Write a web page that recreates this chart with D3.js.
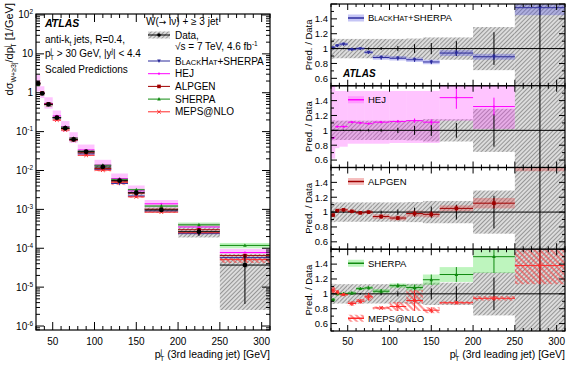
<!DOCTYPE html>
<html>
<head>
<meta charset="utf-8">
<script src="https://cdn.jsdelivr.net/npm/d3@7"></script>
<style>
body { margin: 0; background: #fff; }
svg { font-family: "Liberation Sans", Arial, sans-serif; }
</style>
</head>
<body>
<div id="viz"></div>
<script>
// bins of the 3rd leading jet pT [GeV]
const edges = [30, 35, 40, 50, 60, 70, 80, 100, 120, 140, 160, 200, 250, 310];

// measured cross section [1/GeV] and relative uncertainties
const dataXs   = [1.74, 0.96, 0.50, 0.228, 0.122, 0.063, 0.0304, 0.0123, 0.00547, 0.00269, 0.000966, 0.000267, 0.000037];
const dataStat = [0.006, 0.006, 0.008, 0.01, 0.012, 0.015, 0.02, 0.035, 0.06, 0.075, 0.1, 0.22, 0.9];
const dataTot  = [0.135, 0.13, 0.13, 0.13, 0.13, 0.13, 0.13, 0.13, 0.135, 0.15, 0.15, 0.29, 0.93];

// prediction / data
const bhRatio   = [1.01, 1.04, 1.06, 0.99, 1.00, 0.95, 0.88, 0.87, 0.85, 0.82, 0.94, 0.89, 1.55];
const bhErr     = [0.02, 0.02, 0.02, 0.02, 0.02, 0.02, 0.03, 0.03, 0.03, 0.03, 0.04, 0.04, 0.10];
const hejRatio  = [0.90, 1.05, 1.05, 1.11, 1.10, 1.09, 1.11, 1.12, 1.13, 1.11, 1.44, 1.32, 2.10];
const hejHi     = [1.65, 1.53, 1.53, 1.53, 1.53, 1.53, 1.53, 1.53, 1.53, 1.53, 1.80, 1.62, 2.60];
const hejLo     = [0.62, 0.76, 0.78, 0.82, 0.82, 0.82, 0.82, 0.83, 0.83, 0.83, 1.13, 1.02, 1.65];
const hejStat   = [0.01, 0.01, 0.01, 0.01, 0.01, 0.01, 0.015, 0.02, 0.03, 0.04, 0.15, 0.12, 0.3];
const alpRatio  = [0.96, 1.02, 1.03, 1.01, 0.99, 1.00, 0.94, 0.92, 0.98, 0.97, 1.05, 1.12, 1.75];
const alpErr    = [0.02, 0.02, 0.02, 0.02, 0.02, 0.02, 0.03, 0.03, 0.04, 0.04, 0.04, 0.07, 0.20];
const sheRatio  = [0.92, 1.00, 1.00, 1.01, 1.07, 1.08, 1.035, 1.11, 1.085, 1.19, 1.26, 1.50, 3.20];
const sheErr    = [0.02, 0.02, 0.02, 0.02, 0.02, 0.02, 0.03, 0.03, 0.04, 0.07, 0.10, 0.22, 0.50];
const mepsRatio = [1.05, 1.02, 0.99, 0.87, 0.90, 0.96, 0.81, 0.83, 0.91, 0.78, 0.88, 0.94, 1.38];
const mepsErr   = [0.04, 0.03, 0.02, 0.03, 0.03, 0.05, 0.02, 0.06, 0.14, 0.04, 0.02, 0.03, 0.25];

const xTicksMajor = [50, 100, 150, 200, 250, 300];
const ratioTicks = [0.6, 0.8, 1, 1.2, 1.4];

const bins = d3.range(edges.length - 1).map(i => ({i: i, lo: edges[i], hi: edges[i + 1], mid: (edges[i] + edges[i + 1]) / 2}));

const pm = (c, e) => c.map((v, i) => v + e[i]);
const mm = (c, e) => c.map((v, i) => v - e[i]);

const models = [
    {key: "bh", ratio: bhRatio, hi: pm(bhRatio, bhErr), lo: mm(bhRatio, bhErr), stat: bhErr, color: "#2b2b9c", band: "rgba(90,90,225,0.35)", marker: "tridown", panel: 0},
    {key: "hej", ratio: hejRatio, hi: hejHi, lo: hejLo, stat: hejStat, color: "#ff00ff", band: "rgba(255,60,255,0.30)", marker: "dot", panel: 1},
    {key: "alp", ratio: alpRatio, hi: pm(alpRatio, alpErr), lo: mm(alpRatio, alpErr), stat: alpErr, color: "#a00000", band: "rgba(225,70,70,0.35)", marker: "square", panel: 2},
    {key: "she", ratio: sheRatio, hi: pm(sheRatio, sheErr), lo: mm(sheRatio, sheErr), stat: sheErr, color: "#108a10", band: "rgba(70,225,70,0.35)", marker: "tri", panel: 3},
    {key: "meps", ratio: mepsRatio, hi: pm(mepsRatio, mepsErr), lo: mm(mepsRatio, mepsErr), stat: mepsErr, color: "#ff2a2a", band: "url(#hatchRed)", marker: "x", panel: 3}
];

const width = 579, height = 368;
const svg = d3.select("#viz").append("svg").attr("width", width).attr("height", height);
const defs = svg.append("defs");

const hg = defs.append("pattern").attr("id", "hatchGray").attr("patternUnits", "userSpaceOnUse")
    .attr("width", 3).attr("height", 3).attr("patternTransform", "rotate(45)");
hg.append("rect").attr("width", 3).attr("height", 3).attr("fill", "#dcdcdc");
hg.append("line").attr("x1", 0.5).attr("y1", 0).attr("x2", 0.5).attr("y2", 3).attr("stroke", "#8e8e8e").attr("stroke-width", 0.9);

const hr = defs.append("pattern").attr("id", "hatchRed").attr("patternUnits", "userSpaceOnUse")
    .attr("width", 4).attr("height", 4).attr("patternTransform", "rotate(-45)");
hr.append("line").attr("x1", 1).attr("y1", 0).attr("x2", 1).attr("y2", 4).attr("stroke", "#ff3030").attr("stroke-width", 1);

// ---------- left panel ----------
const L = {x0: 36, x1: 270, y0: 14, y1: 330};
const xL = d3.scaleLinear().domain([30, 310]).range([L.x0, L.x1]);
const yL = d3.scaleLog().domain([7.9e-7, 106]).range([L.y1, L.y0]);

defs.append("clipPath").attr("id", "clipL").append("rect")
    .attr("x", L.x0).attr("y", L.y0).attr("width", L.x1 - L.x0).attr("height", L.y1 - L.y0);

function drawMarker(g, type, x, y, color, s) {
    if (type === "circle") {
        g.append("circle").attr("cx", x).attr("cy", y).attr("r", s).attr("fill", color);
    } else if (type === "square") {
        g.append("rect").attr("x", x - s).attr("y", y - s).attr("width", 2 * s).attr("height", 2 * s).attr("fill", color);
    } else if (type === "tri" || type === "tridown") {
        const sg = type === "tri" ? 1 : -1;
        g.append("path").attr("d", `M${x},${y - sg * s * 1.1}L${x + s},${y + sg * s * 0.8}L${x - s},${y + sg * s * 0.8}Z`).attr("fill", color);
    } else if (type === "x") {
        g.append("path").attr("d", `M${x - s},${y - s}L${x + s},${y + s}M${x - s},${y + s}L${x + s},${y - s}`)
            .attr("stroke", color).attr("stroke-width", 1);
    } else if (type === "dot") {
        g.append("circle").attr("cx", x).attr("cy", y).attr("r", s * 0.6).attr("fill", color);
    }
}

const gL = svg.append("g").attr("clip-path", "url(#clipL)");

function boxes(g, xs, ys, lows, highs, fill) {
    g.append("g").selectAll("rect").data(bins).join("rect")
        .attr("x", d => xs(d.lo))
        .attr("width", d => xs(d.hi) - xs(d.lo))
        .attr("y", d => ys(highs[d.i]))
        .attr("height", d => Math.max(0, ys(lows[d.i]) - ys(highs[d.i])))
        .attr("fill", fill);
}

// scaled predictions as bands
const scaled = arr => arr.map((v, i) => v * dataXs[i]);
[1, 0, 2, 3].forEach(k => {
    const m = models[k];
    boxes(gL, xL, yL, scaled(m.lo), scaled(m.hi), m.band);
});
boxes(gL, xL, yL, dataXs.map((v, i) => v * (1 - dataTot[i])), dataXs.map((v, i) => v * (1 + dataTot[i])), "url(#hatchGray)");
boxes(gL, xL, yL, scaled(models[4].lo), scaled(models[4].hi), models[4].band);

function modelLines(g, xs, ys, m, vals, withStat) {
    const gm = g.append("g");
    gm.selectAll("line.h").data(bins).join("line").attr("class", "h")
        .attr("x1", d => xs(d.lo)).attr("x2", d => xs(d.hi))
        .attr("y1", d => ys(vals[d.i])).attr("y2", d => ys(vals[d.i]))
        .attr("stroke", m.color).attr("stroke-width", 1);
    if (withStat) {
        gm.selectAll("line.v").data(bins).join("line").attr("class", "v")
            .attr("x1", d => xs(d.mid)).attr("x2", d => xs(d.mid))
            .attr("y1", d => ys(m.ratio[d.i] - m.stat[d.i])).attr("y2", d => ys(m.ratio[d.i] + m.stat[d.i]))
            .attr("stroke", m.color).attr("stroke-width", 1);
    }
    bins.forEach(d => drawMarker(gm, m.marker, xs(d.mid), ys(vals[d.i]), m.color, 1.8));
}

models.forEach(m => modelLines(gL, xL, yL, m, scaled(m.ratio), false));

// data points
const gD = gL.append("g");
gD.selectAll("line.h").data(bins).join("line").attr("class", "h")
    .attr("x1", d => xL(d.lo)).attr("x2", d => xL(d.hi))
    .attr("y1", d => yL(dataXs[d.i])).attr("y2", d => yL(dataXs[d.i]))
    .attr("stroke", "#000").attr("stroke-width", 1);
gD.selectAll("line.v").data(bins).join("line").attr("class", "v")
    .attr("x1", d => xL(d.mid)).attr("x2", d => xL(d.mid))
    .attr("y1", d => yL(dataXs[d.i] * (1 - dataStat[d.i]))).attr("y2", d => yL(dataXs[d.i] * (1 + dataStat[d.i])))
    .attr("stroke", "#000").attr("stroke-width", 1);
bins.forEach(d => drawMarker(gD, "circle", xL(d.mid), yL(dataXs[d.i]), "#000", 2.4));

// frame and ticks, ROOT style (inside, all four sides)
function tickLines(g, pts) {
    g.append("g").selectAll("line").data(pts).join("line")
        .attr("x1", d => d[0]).attr("y1", d => d[1]).attr("x2", d => d[2]).attr("y2", d => d[3])
        .attr("stroke", "#000").attr("stroke-width", 1);
}

function xTicks(g, xs, top, bottom, major, minor) {
    const pts = [];
    d3.range(30, 311, 10).forEach(v => {
        const len = v % 50 === 0 ? major : minor;
        const x = xs(v);
        pts.push([x, bottom, x, bottom - len]);
        pts.push([x, top, x, top + len]);
    });
    tickLines(g, pts);
}

const gAxL = svg.append("g");
xTicks(gAxL, xL, L.y0, L.y1, 8, 4);
const yPts = [];
d3.range(-7, 3).forEach(e => {
    d3.range(1, 10).forEach(k => {
        const v = k * Math.pow(10, e);
        if (v < yL.domain()[0] || v > yL.domain()[1]) return;
        const y = yL(v), len = k === 1 ? 8 : 4;
        yPts.push([L.x0, y, L.x0 + len, y]);
        yPts.push([L.x1, y, L.x1 - len, y]);
    });
});
tickLines(gAxL, yPts);
gAxL.append("rect").attr("x", L.x0).attr("y", L.y0).attr("width", L.x1 - L.x0).attr("height", L.y1 - L.y0)
    .attr("fill", "none").attr("stroke", "#000").attr("stroke-width", 1.2);

// y tick labels
d3.range(-6, 3).forEach(e => {
    const t = gAxL.append("text").attr("x", L.x0 - 3).attr("y", yL(Math.pow(10, e)) + 3.5)
        .attr("text-anchor", "end").attr("font-size", 10);
    if (e === 0) t.text("1");
    else if (e === 1) t.text("10");
    else {
        t.append("tspan").text("10");
        t.append("tspan").attr("dy", -4).attr("font-size", 6.5).text(e);
    }
});
gAxL.selectAll("text.xl").data(xTicksMajor).join("text").attr("class", "xl")
    .attr("x", d => xL(d)).attr("y", 345).attr("text-anchor", "middle").attr("font-size", 10).text(d => d);

function xTitle(x) {
    const t = svg.append("text").attr("x", x).attr("y", 358).attr("text-anchor", "end").attr("font-size", 10.5);
    t.append("tspan").text("p");
    t.append("tspan").attr("dy", -4).attr("font-size", 7).text("j");
    t.append("tspan").attr("dx", -2).attr("dy", 7).attr("font-size", 7).text("T");
    t.append("tspan").attr("dy", -3).text(" (3rd leading jet) [GeV]");
}
xTitle(L.x1);

// y title
const yt = svg.append("text").attr("transform", "translate(13,3) rotate(-90)")
    .attr("text-anchor", "end").attr("font-size", 11);
yt.append("tspan").text("dσ");
yt.append("tspan").attr("dy", 3).attr("font-size", 7).text("W+≥3j");
yt.append("tspan").attr("dy", -3).text("/dp");
yt.append("tspan").attr("dy", -4).attr("font-size", 7).text("j");
yt.append("tspan").attr("dx", -2).attr("dy", 7).attr("font-size", 7).text("T");
yt.append("tspan").attr("dy", -3).text(" [1/GeV]");

// left legend text
const lg = svg.append("g").attr("font-size", 10);
lg.append("text").attr("x", 45).attr("y", 27).attr("font-weight", "bold").attr("font-style", "italic").attr("font-size", 10.5).text("ATLAS");
const t1 = lg.append("text").attr("x", 45).attr("y", 43);
t1.append("tspan").text("anti-k");
t1.append("tspan").attr("dy", 2.5).attr("font-size", 6.5).text("t");
t1.append("tspan").attr("dy", -2.5).text(" jets, R=0.4,");
const t2 = lg.append("text").attr("x", 45).attr("y", 57);
t2.append("tspan").text("p");
t2.append("tspan").attr("dy", -4).attr("font-size", 6.5).text("j");
t2.append("tspan").attr("dx", -2).attr("dy", 6.5).attr("font-size", 6.5).text("T");
t2.append("tspan").attr("dy", -2.5).text(" > 30 GeV, |y");
t2.append("tspan").attr("dy", -4).attr("font-size", 6.5).text("j");
t2.append("tspan").attr("dy", 4).text("| < 4.4");
lg.append("text").attr("x", 45).attr("y", 73).text("Scaled Predictions");

const tw = lg.append("text").attr("x", 146).attr("y", 25);
tw.append("tspan").text("W(");
tw.append("tspan").attr("font-family", "DejaVu Sans").attr("font-size", 9).text("→");
tw.append("tspan").text(" lν) + ≥ 3 jet");
lg.append("rect").attr("x", 148).attr("y", 31.5).attr("width", 22).attr("height", 7).attr("fill", "url(#hatchGray)");
lg.append("line").attr("x1", 148).attr("x2", 170).attr("y1", 35).attr("y2", 35).attr("stroke", "#000");
drawMarker(lg, "circle", 159, 35, "#000", 1.8);
lg.append("text").attr("x", 175).attr("y", 38.5).text("Data,");
const t3 = lg.append("text").attr("x", 175).attr("y", 50);
t3.append("tspan").text("√s = 7 TeV, 4.6 fb");
t3.append("tspan").attr("dy", -4).attr("font-size", 6.5).text("-1");

function smallCapsBH(t, big, small) {
    t.append("tspan").attr("font-size", big).text("B");
    t.append("tspan").attr("font-size", small).text("LACK");
    t.append("tspan").attr("font-size", big).text("H");
    t.append("tspan").attr("font-size", small).text("AT");
    t.append("tspan").attr("font-size", big).text("+SHERPA");
}

const legNames = ["BH", "HEJ", "ALPGEN", "SHERPA", "MEPS@NLO"];
models.forEach((m, k) => {
    const y = 61 + k * 12.7;
    lg.append("line").attr("x1", 148).attr("x2", 170).attr("y1", y).attr("y2", y).attr("stroke", m.color);
    drawMarker(lg, m.marker, 159, y, m.color, 1.8);
    const t = lg.append("text").attr("x", 175).attr("y", y + 3.5);
    if (k === 0) smallCapsBH(t, 10, 7.5);
    else t.text(legNames[k]);
});

// ---------- right panels ----------
const R = {x0: 331, x1: 565, y0: 4, y1: 331};
const ph = (R.y1 - R.y0) / 4;
const xR = d3.scaleLinear().domain([30, 310]).range([R.x0, R.x1]);

for (let p = 0; p < 4; p++) {
    const top = R.y0 + p * ph, bot = top + ph;
    const yR = d3.scaleLinear().domain([0.5, 1.6]).range([bot, top]);
    defs.append("clipPath").attr("id", "clipR" + p).append("rect")
        .attr("x", R.x0).attr("y", top).attr("width", R.x1 - R.x0).attr("height", ph);
    const g = svg.append("g").attr("clip-path", `url(#clipR${p})`);

    boxes(g, xR, yR, dataTot.map(e => 1 - e), dataTot.map(e => 1 + e), "url(#hatchGray)");
    const pms = models.filter(m => m.panel === p);
    pms.forEach(m => boxes(g, xR, yR, m.lo, m.hi, m.band));

    g.append("line").attr("x1", R.x0).attr("x2", R.x1).attr("y1", yR(1)).attr("y2", yR(1)).attr("stroke", "#000");
    g.append("g").selectAll("line").data(bins).join("line")
        .attr("x1", d => xR(d.mid)).attr("x2", d => xR(d.mid))
        .attr("y1", d => yR(1 - dataStat[d.i])).attr("y2", d => yR(1 + dataStat[d.i]))
        .attr("stroke", "#000").attr("stroke-width", 1);

    pms.forEach(m => modelLines(g, xR, yR, m, m.ratio, true));

    // ticks
    const ga = svg.append("g");
    xTicks(ga, xR, top, bot, 6, 3);
    const pts = [];
    d3.range(5, 17).forEach(k => {
        const v = k / 10, y = yR(v);
        const len = (k % 2 === 0) ? 6 : 3;
        pts.push([R.x0, y, R.x0 + len, y]);
        pts.push([R.x1, y, R.x1 - len, y]);
    });
    tickLines(ga, pts);
    ga.append("rect").attr("x", R.x0).attr("y", top).attr("width", R.x1 - R.x0).attr("height", ph)
        .attr("fill", "none").attr("stroke", "#000").attr("stroke-width", 1.2);
    ga.selectAll("text.yt").data(ratioTicks).join("text").attr("class", "yt")
        .attr("x", R.x0 - 3).attr("y", d => yR(d) + 3.3).attr("text-anchor", "end").attr("font-size", 9.5)
        .text(d => d === 1 ? "1" : d.toFixed(1));
    ga.append("text").attr("transform", `translate(312,${(top + bot) / 2}) rotate(-90)`)
        .attr("text-anchor", "middle").attr("font-size", 9.5).text("Pred. / Data");

    // legends
    pms.forEach((m, j) => {
        const ly = j === 0 ? top + 14 : top + 69;
        ga.append("rect").attr("x", 348).attr("y", ly - 3.5).attr("width", 16).attr("height", 7).attr("fill", m.band);
        ga.append("line").attr("x1", 348).attr("x2", 364).attr("y1", ly).attr("y2", ly).attr("stroke", m.color).attr("stroke-width", 1.5);
        const t = ga.append("text").attr("x", 368).attr("y", ly + 3.3).attr("font-size", 9.5);
        if (m.key === "bh") smallCapsBH(t, 9.5, 7);
        else t.text(legNames[models.indexOf(m)]);
    });
    if (p === 0) {
        ga.append("text").attr("x", 343).attr("y", 77).attr("font-weight", "bold").attr("font-style", "italic")
            .attr("font-size", 10).text("ATLAS");
    }
}

svg.append("g").selectAll("text").data(xTicksMajor).join("text")
    .attr("x", d => xR(d)).attr("y", 345).attr("text-anchor", "middle").attr("font-size", 10).text(d => d);
xTitle(R.x1);
</script>
</body>
</html>
